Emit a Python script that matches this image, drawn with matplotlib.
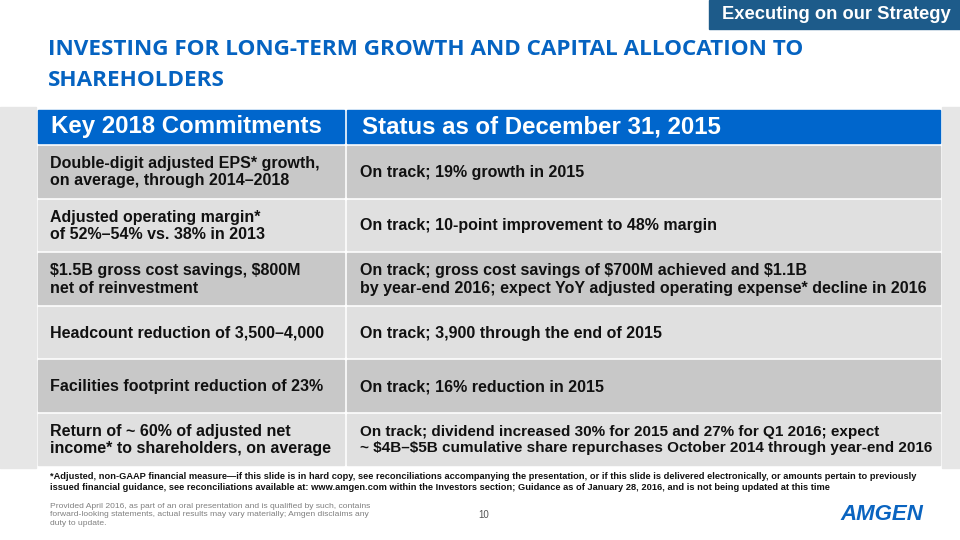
import matplotlib.pyplot as plt
from matplotlib.patches import Rectangle

plt.rcParams['font.family'] = ['Liberation Sans', 'DejaVu Sans']
plt.rcParams['text.parse_math'] = False

title_lines = ["INVESTING FOR LONG-TERM GROWTH AND CAPITAL ALLOCATION TO",
               "SHAREHOLDERS"]
tag = "Executing on our Strategy"
headers = ["Key 2018 Commitments", "Status as of December 31, 2015"]
commitments = [
    "Double-digit adjusted EPS* growth,\non average, through 2014\u20132018",
    "Adjusted operating margin*\nof 52%\u201354% vs. 38% in 2013",
    "$1.5B gross cost savings, $800M\nnet of reinvestment",
    "Headcount reduction of 3,500\u20134,000",
    "Facilities footprint reduction of 23%",
    "Return of ~ 60% of adjusted net\nincome* to shareholders, on average",
]
statuses = [
    "On track; 19% growth in 2015",
    "On track; 10-point improvement to 48% margin",
    "On track; gross cost savings of $700M achieved and $1.1B\n"
    "by year-end 2016; expect YoY adjusted operating expense* decline in 2016",
    "On track; 3,900 through the end of 2015",
    "On track; 16% reduction in 2015",
    "On track; dividend increased 30% for 2015 and 27% for Q1 2016; expect\n"
    "~ $4B\u2013$5B cumulative share repurchases October 2014 through year-end 2016",
]
footnote = ("*Adjusted, non-GAAP financial measure\u2014if this slide is in hard copy, see reconciliations "
            "accompanying the presentation, or if this slide is delivered electronically, or amounts pertain to previously\n"
            "issued financial guidance, see reconciliations available at: www.amgen.com within the Investors "
            "section; Guidance as of January 28, 2016, and is not being updated at this time")
disclaimer = ("Provided April 2016, as part of an oral presentation and is qualified by such, contains\n"
              "forward-looking statements, actual results may vary materially; Amgen disclaims any\n"
              "duty to update.")
page_no = "10"

fig = plt.figure(figsize=(9.6, 5.4), dpi=100)
ax = fig.add_axes([0, 0, 1, 1])
ax.set_xlim(0, 960)
ax.set_ylim(540, 0)
ax.axis('off')

blue = '#0563C1'
dark = '#C8C8C8'
light = '#E0E0E0'

# tag top right
ax.add_patch(Rectangle((709, 0), 251, 29, color='#1D5B8A'))
ax.text(722, 14.5, tag, color='white', fontsize=13.2, fontweight='bold', ha='left', va='center')

# title
for i, line in enumerate(title_lines):
    ax.text(48, 55 + i * 31, line, color=blue, fontsize=16.2, fontweight='bold',
            family='Open Sans', va='baseline', ha='left')

# side strips
ax.add_patch(Rectangle((0, 107), 36, 361, color='#E6E6E6'))
ax.add_patch(Rectangle((942, 107), 18, 361, color='#E6E6E6'))

# header
x0, xm, x1 = 38, 345, 940
gap = 3
ax.add_patch(Rectangle((x0, 110), xm - x0 - 1, 33, color='#0066CC'))
ax.add_patch(Rectangle((xm + 2, 110), x1 - xm - 2, 33, color='#0066CC'))
ax.text(51, 127, headers[0], color='white', fontsize=17.3, fontweight='bold', va='center')
ax.text(362, 127, headers[1], color='white', fontsize=17.3, fontweight='bold', va='center')

row_top = 146
row_h = 53.6
for i, (c, s) in enumerate(zip(commitments, statuses)):
    y = row_top + i * row_h
    col = dark if i % 2 == 0 else light
    ax.add_patch(Rectangle((x0, y), xm - x0 - 1, row_h - gap, color=col))
    ax.add_patch(Rectangle((xm + 2, y), x1 - xm - 2, row_h - gap, color=col))
    yc = y + (row_h - gap) / 2 + 1
    ax.text(50, yc, c, fontsize=11.5, fontweight='bold', va='center', ha='left',
            color='#111111', linespacing=1.2)
    # last status is set tighter in the original slide
    ax.text(360, yc, s, fontsize=11.0 if i == 5 else 11.5, fontweight='bold',
            va='center', ha='left', color='#111111', linespacing=1.2)

# footnote
ax.text(50, 482, footnote, fontsize=6.7, fontweight='bold', va='center', ha='left',
        color='#111111', linespacing=1.3)
ax.text(50, 515, disclaimer, fontsize=6.1, va='center', ha='left', color='#808080',
        linespacing=1.3)
ax.text(484, 515, page_no, fontsize=7, va='center', ha='center', color='#555555')

# logo
ax.text(882, 515, "AMGEN", fontsize=16, fontweight='heavy', style='italic',
        color='#0A64C0', va='center', ha='center')

fig.savefig('out.png', dpi=100)
